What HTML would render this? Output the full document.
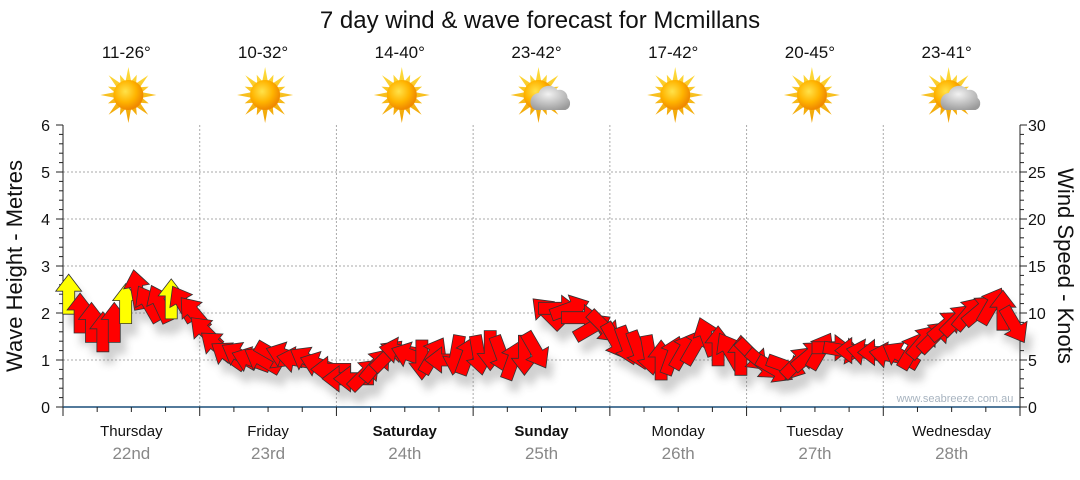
<!DOCTYPE html>
<html><head><meta charset="utf-8"><style>
body{margin:0;background:#fff;width:1080px;height:475px;overflow:hidden;font-family:"Liberation Sans",sans-serif}
</style></head><body>
<svg id="chart" width="1080" height="475" viewBox="0 0 1080 475" font-family="Liberation Sans, DejaVu Sans, sans-serif">
<defs>
<radialGradient id="sunG" cx="40%" cy="38%" r="60%"><stop offset="0" stop-color="#ffe24a"/><stop offset="0.6" stop-color="#ffb400"/><stop offset="1" stop-color="#f08a00"/></radialGradient>
<linearGradient id="rayG" x1="0" y1="0" x2="0" y2="1"><stop offset="0" stop-color="#ffe040"/><stop offset="1" stop-color="#f0a000"/></linearGradient>
<radialGradient id="cloudG" cx="45%" cy="35%" r="70%"><stop offset="0" stop-color="#f2f2f2"/><stop offset="1" stop-color="#9a9a9a"/></radialGradient>
<filter id="shadow" x="-50%" y="-50%" width="200%" height="200%"><feGaussianBlur stdDeviation="4"/></filter>
</defs>
<text x="540" y="28" text-anchor="middle" font-size="24" fill="#111">7 day wind &amp; wave forecast for Mcmillans</text>
<g id="grid"></g>
<g id="axes"></g>
<g id="header"></g>
<g id="shadows" opacity="0.3" filter="url(#shadow)"></g>
<g id="arrows"></g>
<text x="955" y="402" text-anchor="middle" font-size="11" fill="#a8b4c0">www.seabreeze.com.au</text>
<text transform="translate(22,266) rotate(-90)" text-anchor="middle" font-size="22" fill="#111">Wave Height - Metres</text>
<text transform="translate(1058,266) rotate(90)" text-anchor="middle" font-size="22" fill="#111">Wind Speed - Knots</text>
</svg>
<script>
const days=["Thursday","Friday","Saturday","Sunday","Monday","Tuesday","Wednesday"];
const dates=["22nd","23rd","24th","25th","26th","27th","28th"];
const boldDays=[false,false,true,true,false,false,false];
const temps=["11-26°","10-32°","14-40°","23-42°","17-42°","20-45°","23-41°"];
const cloudy=[false,false,false,true,false,false,true];
const waveTicks=[0,1,2,3,4,5,6];
const windTicks=[0,5,10,15,20,25,30];
const windSpeed=[12,10,9,8,9,11,12.5,11,11,11.5,11,10,
 8,6.5,5.5,5.5,5,5,5.5,5.5,5,5,4.5,4,
 3,3,3.5,4.5,5.5,6,5.5,5,5.5,5,5.5,5.5,
 5.5,6,5.5,5,5.5,6,10,10.5,10.5,9.5,8.5,8.5,
 7,6.5,6,5.5,5,5.5,6,6.5,7.5,6.5,6,5.5,
 5.5,4.5,4,4.3,4.8,5.5,6,6.3,6,6,5.8,5.8,
 5.5,5.5,6,7,7.5,8.7,9.3,10,10.3,10.8,10.3,8.7];
const windDir=[0,0,0,0,0,0,350,330,335,0,330,320,
 315,310,305,300,290,300,120,290,280,300,290,270,
 270,270,45,40,45,280,290,180,30,270,190,20,
 170,180,160,20,180,150,315,90,70,90,60,135,
 150,160,160,170,0,20,30,30,340,0,330,0,
 135,130,120,110,45,50,30,90,100,270,280,270,
 280,300,30,40,45,50,45,40,50,30,0,150];
const strong=[1,0,0,0,0,1,0,0,0,1,0,0];

const X0=63,X1=1020,Y0=407,Y1=125,dayW=(X1-X0)/7;
const yWave=v=>Y0-(v/6)*(Y0-Y1);
const yWind=v=>Y0-(v/30)*(Y0-Y1);
const xStep=i=>X0+(i+0.5)*dayW/12;
const NS="http://www.w3.org/2000/svg";
function mk(t,a,p){const e=document.createElementNS(NS,t);for(const k in a)e.setAttribute(k,a[k]);p.appendChild(e);return e;}
const grid=document.getElementById('grid'),axes=document.getElementById('axes'),hdr=document.getElementById('header');

waveTicks.forEach(v=>{
 if(v>0&&v<6){const l=mk('line',{x1:X0,x2:X1,y1:yWave(v),y2:yWave(v),stroke:'#aaa','stroke-dasharray':'2,2'},grid);
 
 }
 const t=mk('text',{x:50,y:yWave(v)+6,'text-anchor':'end','font-size':16,fill:'#111'},axes);t.textContent=v;
 
 
});
windTicks.forEach(v=>{
 const t=mk('text',{x:1028,y:yWind(v)+6,'font-size':16,fill:'#111'},axes);t.textContent=v;
 
 
});
for(let k=0;k<=30;k++){const y=Y0-k*(Y0-Y1)/30;const w=k%5==0?7:4;
 mk('line',{x1:X0-w,x2:X0,y1:y,y2:y,stroke:'#222'},axes);
 mk('line',{x1:X1,x2:X1+w,y1:y,y2:y,stroke:'#222'},axes);}
mk('line',{x1:X0,x2:X0,y1:Y1,y2:Y0,stroke:'#222'},axes);
mk('line',{x1:X1,x2:X1,y1:Y1,y2:Y0,stroke:'#222'},axes);
mk('line',{x1:X0,x2:X1,y1:Y0,y2:Y0,stroke:'#1a4f7a','stroke-width':1.5},axes);
for(let k=0;k<=28;k++){const x=X0+k*dayW/4;mk('line',{x1:x,x2:x,y1:Y0,y2:Y0+(k%4==0?9:5),stroke:'#222'},axes);}

function sun(cx,cy,p){
 let pts=[];for(let k=0;k<32;k++){const a=k*Math.PI/16,r=k%2==0?(k%4==0?28:22):14;pts.push((cx+r*Math.sin(a)).toFixed(1)+','+(cy-r*Math.cos(a)).toFixed(1));}
 mk('polygon',{points:pts.join(' '),fill:'url(#rayG)'},p);
 mk('circle',{cx:cx,cy:cy,r:15,fill:'url(#sunG)'},p);
}
days.forEach((d,i)=>{
 const cx=X0+(i+0.5)*dayW;
 if(i>0){const l=mk('line',{x1:X0+i*dayW,x2:X0+i*dayW,y1:Y1,y2:Y0,stroke:'#aaa','stroke-dasharray':'2,2'},grid);
 
 }
 const t=mk('text',{x:cx,y:436,'text-anchor':'middle','font-size':15,fill:'#111','font-weight':boldDays[i]?'bold':'normal'},axes);t.textContent=d;
 
 
 const t2=mk('text',{x:cx,y:459,'text-anchor':'middle','font-size':17,fill:'#888'},axes);t2.textContent=dates[i];
 
 
 const t3=mk('text',{x:cx-5,y:58,'text-anchor':'middle','font-size':17,fill:'#111'},hdr);t3.textContent=temps[i];
 
 
 const g=mk('g',{},hdr);
 
 
 sun(cx-3,95,g);
 if(cloudy[i]){mk('path',{d:`M${cx-6},${110} a9,9 0 0 1 3,-17 a11,11 0 0 1 19,-3 a8,8 0 0 1 10,8 a7,7 0 0 1 -2,12 z`,fill:'url(#cloudG)'},g);}
});

const ar=document.getElementById('arrows'),sh=document.getElementById('shadows');
const shape="M-6,20 L-6,-3 L-13,-3 L0,-20 L13,-3 L6,-3 L6,20 Z";
windSpeed.forEach((v,i)=>{
 const x=xStep(i),y=yWind(v),r=windDir[i];
 mk('path',{d:shape,transform:`translate(${x+6},${y+12}) rotate(${r})`,fill:'#666'},sh);
 const p=mk('path',{d:shape,transform:`translate(${x},${y}) rotate(${r})`,fill:strong[i]?'#ffff00':'#ff0000',stroke:'#333','stroke-width':0.8},ar);
 
 
});
</script>
</body></html>
